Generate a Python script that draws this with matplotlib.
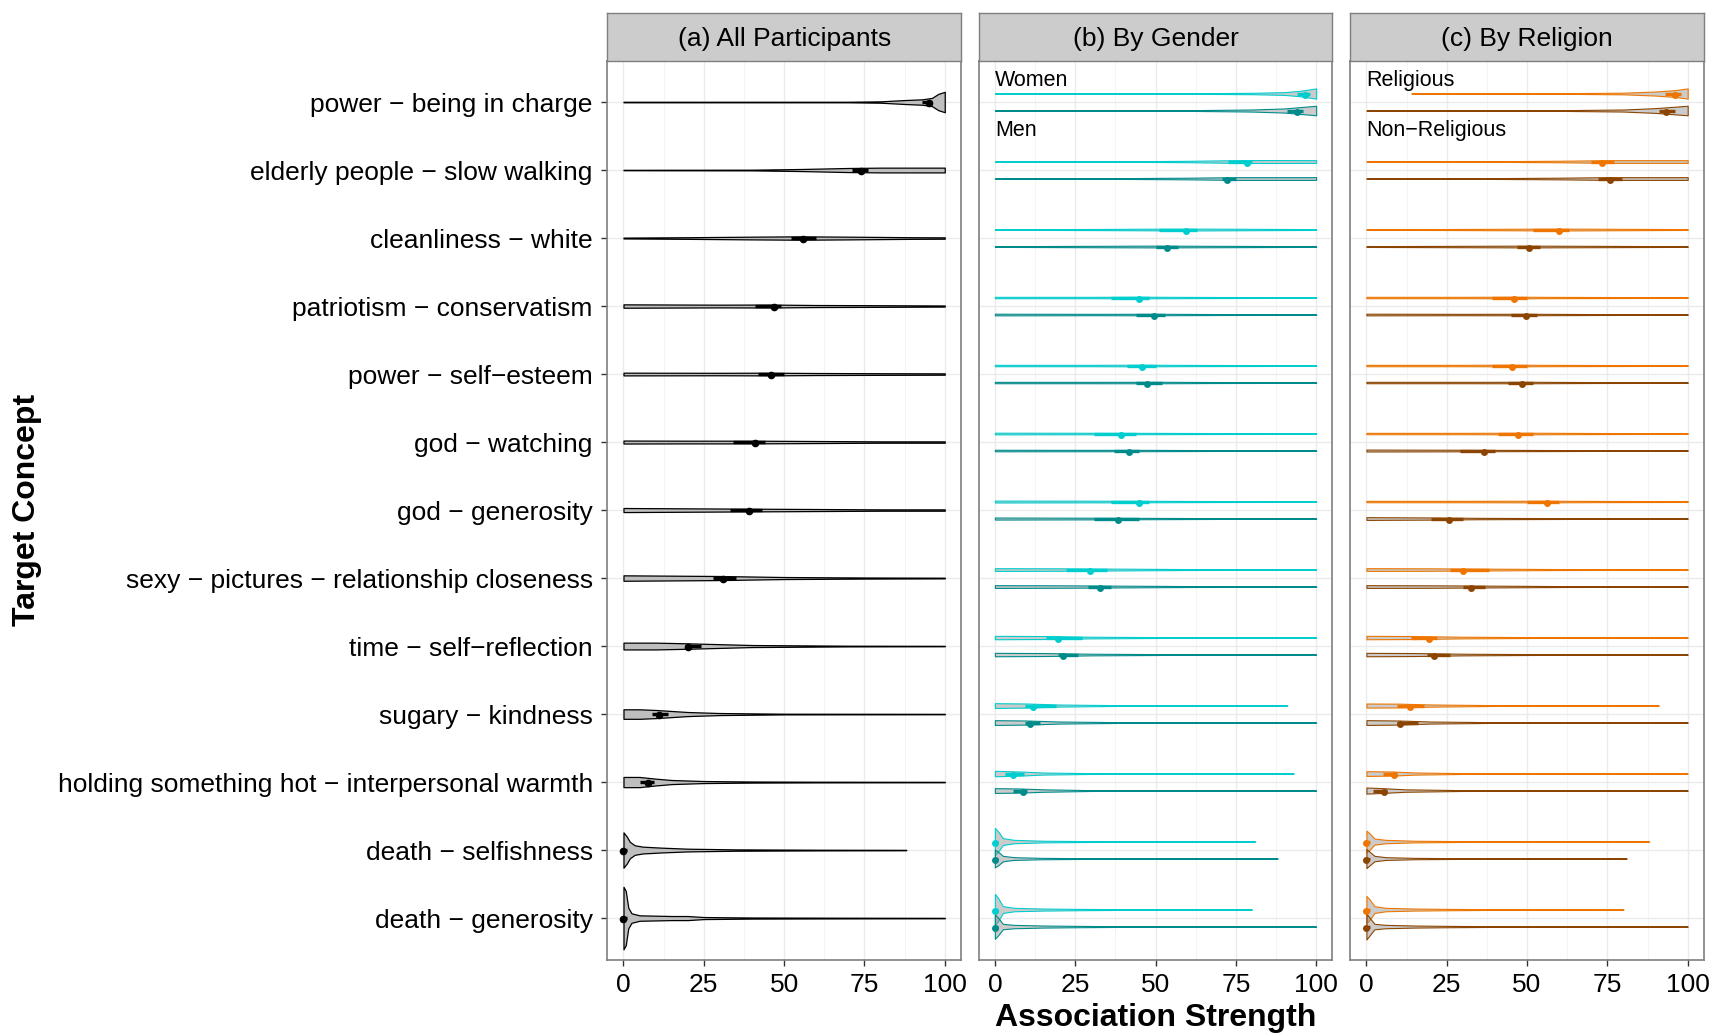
import numpy as np
import matplotlib
matplotlib.use('Agg')
import matplotlib.pyplot as plt

plt.rcParams['font.family'] = ['Liberation Sans', 'DejaVu Sans']

# ---- data ----
concepts = ['power \u2212 being in charge', 'elderly people \u2212 slow walking',
            'cleanliness \u2212 white', 'patriotism \u2212 conservatism',
            'power \u2212 self\u2212esteem', 'god \u2212 watching', 'god \u2212 generosity',
            'sexy \u2212 pictures \u2212 relationship closeness', 'time \u2212 self\u2212reflection',
            'sugary \u2212 kindness', 'holding something hot \u2212 interpersonal warmth',
            'death \u2212 selfishness', 'death \u2212 generosity']

# (a) all participants
all_med = [95, 74, 56, 47, 46, 41, 39, 31, 20, 11, 7.5, 0, 0]
all_q1 = [93, 71, 52, 41, 42, 34, 33, 28, 19, 9, 5, 0, 0]
all_q3 = [96, 76, 60, 49, 50, 44, 43, 35, 24, 14, 9.5, 1, 1]
all_shape = [
    [(0, .004), (70, .004), (80, .01), (88, .03), (93, .04), (96, .06), (98, .12), (100, .15)],
    [(0, .003), (40, .005), (55, .015), (70, .03), (80, .035), (100, .035)],
    [(0, .006), (20, .012), (40, .02), (55, .025), (70, .02), (90, .012), (100, .01)],
    [(0, .025), (30, .02), (45, .022), (60, .015), (80, .012), (100, .008)],
    [(0, .02), (30, .018), (45, .02), (60, .015), (80, .012), (100, .01)],
    [(0, .022), (20, .02), (40, .02), (60, .015), (80, .01), (100, .01)],
    [(0, .03), (20, .025), (40, .02), (60, .015), (80, .01), (100, .01)],
    [(0, .04), (15, .035), (30, .03), (50, .015), (75, .008), (100, .005)],
    [(0, .05), (10, .05), (20, .04), (40, .015), (70, .005), (100, .003)],
    [(0, .07), (5, .07), (10, .06), (20, .03), (30, .015), (50, .005), (100, .003)],
    [(0, .075), (5, .075), (10, .05), (15, .03), (25, .015), (40, .008), (60, .005), (100, .003)],
    [(0, .26), (1, .2), (2, .12), (3.5, .07), (6, .05), (12, .035), (20, .02), (35, .01), (60, .005), (88, .003)],
    [(0, .46), (0.7, .4), (1.5, .15), (2.5, .07), (5, .04), (10, .035), (15, .03), (20, .03),
     (25, .015), (40, .008), (70, .005), (100, .003)],
]

# (b) by gender
women_med = [96.5, 78.5, 59.6, 44.8, 45.8, 39.4, 44.8, 29.6, 19.7, 11.8, 5.7, 0, 0]
women_q1 = [94, 72.5, 51, 36, 41, 31, 36, 22, 16, 9.5, 3, 0, 0]
women_q3 = [98, 80, 63, 48, 50, 44, 48, 35, 27, 19, 9, 1, 1]
women_shape = [
    [(0, .002), (60, .004), (80, .01), (90, .02), (95, .04), (100, .075)],
    [(0, .002), (40, .004), (60, .01), (75, .02), (85, .022), (100, .02)],
    [(0, .004), (30, .008), (50, .012), (65, .013), (80, .01), (100, .006)],
    [(0, .01), (30, .01), (45, .012), (60, .009), (100, .004)],
    [(0, .01), (30, .01), (45, .012), (60, .009), (100, .005)],
    [(0, .012), (30, .011), (45, .01), (70, .007), (100, .005)],
    [(0, .014), (30, .012), (45, .011), (70, .007), (100, .005)],
    [(0, .02), (20, .018), (35, .014), (60, .007), (100, .003)],
    [(0, .025), (15, .022), (30, .012), (60, .004), (100, .002)],
    [(0, .035), (10, .03), (20, .015), (40, .005), (91, .002)],
    [(0, .04), (8, .03), (15, .015), (30, .006), (93, .002)],
    [(0, .2), (1, .15), (2.5, .05), (6, .025), (15, .012), (30, .006), (81, .002)],
    [(0, .23), (1, .17), (2.5, .05), (6, .025), (15, .015), (25, .01), (40, .005), (80, .002)],
]
men_med = [93.9, 72.4, 53.5, 49.5, 47.5, 41.8, 38.4, 32.7, 21.3, 10.8, 8.8, 0, 0]
men_q1 = [91, 70.8, 50, 44, 44, 37, 31, 29, 19.5, 9.5, 5.6, 0, 0]
men_q3 = [96, 75, 57, 53, 52, 45, 45, 36, 26, 14, 10, 1, 1]
men_shape = [
    [(0, .003), (60, .005), (80, .015), (90, .03), (100, .07)],
    [(0, .003), (40, .006), (60, .012), (75, .02), (100, .02)],
    [(0, .005), (30, .01), (50, .013), (70, .01), (100, .005)],
    [(0, .012), (30, .01), (50, .011), (70, .007), (100, .004)],
    [(0, .01), (30, .01), (50, .011), (70, .007), (100, .005)],
    [(0, .011), (30, .01), (45, .01), (70, .006), (100, .005)],
    [(0, .015), (30, .012), (45, .01), (70, .006), (100, .004)],
    [(0, .02), (20, .018), (35, .014), (60, .007), (100, .003)],
    [(0, .025), (15, .022), (30, .012), (60, .004), (100, .002)],
    [(0, .035), (10, .03), (20, .015), (40, .005), (100, .002)],
    [(0, .035), (8, .03), (15, .018), (30, .006), (100, .002)],
    [(0, .13), (1, .1), (2.5, .04), (6, .02), (15, .01), (30, .005), (88, .002)],
    [(0, .18), (1, .13), (2.5, .04), (6, .025), (15, .015), (25, .01), (40, .005), (100, .002)],
]

# (c) by religion
rel_med = [96, 73.3, 59.8, 45.9, 45.3, 47.3, 56.1, 30, 19.5, 13.5, 8.5, 0, 0]
rel_q1 = [93, 70, 52, 39, 39, 41, 50, 26, 14, 9.4, 5.3, 0, 0]
rel_q3 = [98, 77, 63, 50, 50, 52, 60, 38, 22, 18, 9.4, 1, 1]
rel_shape = [
    [(14, .002), (60, .004), (80, .012), (90, .03), (96, .05), (100, .075)],
    [(0, .002), (40, .005), (60, .011), (75, .02), (100, .02)],
    [(0, .004), (30, .008), (50, .012), (65, .013), (80, .01), (100, .006)],
    [(0, .01), (30, .01), (45, .012), (60, .009), (100, .005)],
    [(0, .01), (30, .01), (45, .012), (60, .009), (100, .005)],
    [(0, .01), (30, .01), (50, .012), (70, .008), (100, .005)],
    [(0, .01), (30, .01), (55, .012), (70, .009), (100, .006)],
    [(0, .02), (20, .018), (35, .014), (60, .007), (100, .003)],
    [(0, .025), (15, .022), (30, .012), (60, .004), (100, .002)],
    [(0, .03), (10, .028), (20, .016), (40, .006), (91, .002)],
    [(0, .035), (8, .03), (15, .016), (30, .006), (100, .002)],
    [(0, .16), (1, .12), (2.5, .045), (6, .025), (15, .012), (30, .006), (88, .002)],
    [(0, .2), (1, .15), (2.5, .05), (6, .025), (15, .015), (25, .01), (40, .005), (80, .002)],
]
non_med = [93.2, 75.7, 50.7, 49.7, 48.3, 36.5, 25.7, 32.4, 21, 10.4, 5.6, 0, 0]
non_q1 = [91, 72, 47, 45, 44, 29, 20, 30, 19, 9.4, 2.2, 0, 0]
non_q3 = [96, 79.6, 54, 53, 52, 40, 30, 37, 26, 16, 6.3, 1, 1]
non_shape = [
    [(0, .002), (60, .005), (80, .015), (90, .035), (100, .07)],
    [(0, .003), (40, .006), (60, .012), (75, .02), (100, .02)],
    [(0, .006), (30, .01), (50, .013), (70, .01), (100, .005)],
    [(0, .012), (30, .01), (50, .011), (70, .007), (100, .004)],
    [(0, .01), (30, .01), (50, .011), (70, .007), (100, .005)],
    [(0, .014), (25, .012), (40, .01), (70, .006), (100, .004)],
    [(0, .02), (20, .016), (35, .01), (70, .005), (100, .003)],
    [(0, .02), (20, .018), (35, .014), (60, .007), (100, .003)],
    [(0, .025), (15, .022), (30, .012), (60, .004), (100, .002)],
    [(0, .035), (10, .03), (20, .015), (40, .005), (100, .002)],
    [(0, .045), (5, .035), (12, .018), (30, .006), (100, .002)],
    [(0, .14), (1, .1), (2.5, .04), (6, .02), (15, .01), (30, .005), (81, .002)],
    [(0, .19), (1, .13), (2.5, .04), (6, .025), (15, .015), (25, .01), (40, .005), (100, .002)],
]

panel_titles = ['(a) All Participants', '(b) By Gender', '(c) By Religion']
x_ticks = [0, 25, 50, 75, 100]

women_col, men_col = '#00CDCD', '#008B8B'
rel_col, non_col = '#EE7600', '#8B4500'

# ---- layout ----
fig = plt.figure(figsize=(17.13, 10.36), dpi=100)
lefts = [0.3546, 0.5714, 0.7883]
pw = 0.2063
pb, ph = 0.0738, 0.8671
sh = 0.0464

rows = np.arange(1, len(concepts) + 1)


def violin(ax, y, shape, edge, face, lw):
    xs = np.array([p[0] for p in shape])
    ws = np.array([p[1] for p in shape])
    ax.fill_between(xs, y - ws, y + ws, facecolor=face, edgecolor=edge, linewidth=lw, zorder=3)


def summary(ax, y, q1, med, q3, col, ms=5.5):
    ax.plot([q1, q3], [y, y], color=col, lw=2.4, solid_capstyle='butt', zorder=4)
    ax.plot([med], [y + 0.02], 'o', color=col, ms=ms, mec='none', zorder=5)


axes = []
for i, (l, title) in enumerate(zip(lefts, panel_titles)):
    ax = fig.add_axes([l, pb, pw, ph])
    ax.set_xlim(-5, 105)
    ax.set_ylim(13.61, 0.40)
    ax.set_xticks(x_ticks)
    ax.set_xticks([12.5, 37.5, 62.5, 87.5], minor=True)
    ax.set_yticks(rows)
    ax.grid(True, which='major', color='#EBEBEB', lw=1.0, zorder=0)
    ax.grid(True, which='minor', axis='x', color='#F2F2F2', lw=0.6, zorder=0)
    ax.set_axisbelow(True)
    for s in ax.spines.values():
        s.set_color('#7F7F7F')
        s.set_linewidth(1.2)
    ax.tick_params(axis='both', which='major', length=4.5, width=1, color='#333333',
                   labelsize=19, labelcolor='black')
    ax.tick_params(axis='x', which='minor', length=0)
    ax.tick_params(axis='x', pad=5)
    ax.tick_params(axis='y', pad=6)
    if i == 0:
        ax.set_yticklabels(concepts)
    else:
        ax.set_yticklabels([])
        ax.tick_params(axis='y', length=0)
    st = fig.add_axes([l, pb + ph, pw, sh])
    st.set_facecolor('#CCCCCC')
    st.set_xticks([])
    st.set_yticks([])
    for s in st.spines.values():
        s.set_color('#7F7F7F')
        s.set_linewidth(1.0)
    st.text(0.5, 0.46, title, ha='center', va='center', fontsize=19, transform=st.transAxes)
    axes.append(ax)

# (a)
ax = axes[0]
for k, y in enumerate(rows):
    violin(ax, y, all_shape[k], 'black', '#BEBEBE', 0.9)
    summary(ax, y, all_q1[k], all_med[k], all_q3[k], 'black')

# (b) and (c)
groups = [
    (axes[1], [(women_shape, women_q1, women_med, women_q3, women_col),
               (men_shape, men_q1, men_med, men_q3, men_col)], ['Women', 'Men']),
    (axes[2], [(rel_shape, rel_q1, rel_med, rel_q3, rel_col),
               (non_shape, non_q1, non_med, non_q3, non_col)], ['Religious', 'Non\u2212Religious']),
]
offsets = [-0.125, 0.125]
for ax, sets, names in groups:
    for (shape, q1, med, q3, col), off in zip(sets, offsets):
        for k, y in enumerate(rows):
            violin(ax, y + off, shape[k], col, (0.55, 0.55, 0.55, 0.45), 0.8)
            summary(ax, y + off, q1[k], med[k], q3[k], col, ms=5)
    ax.text(0, 0.68, names[0], ha='left', va='center', fontsize=15.5)
    ax.text(0, 1.418, names[1], ha='left', va='center', fontsize=15.5)

fig.text(0.6748, 0.017, 'Association Strength', ha='center', va='center',
         fontsize=23, fontweight='bold')
fig.text(0.016, 0.5074, 'Target Concept', ha='center', va='center',
         fontsize=23, fontweight='bold', rotation=90)

fig.savefig('out.png', dpi=100)
